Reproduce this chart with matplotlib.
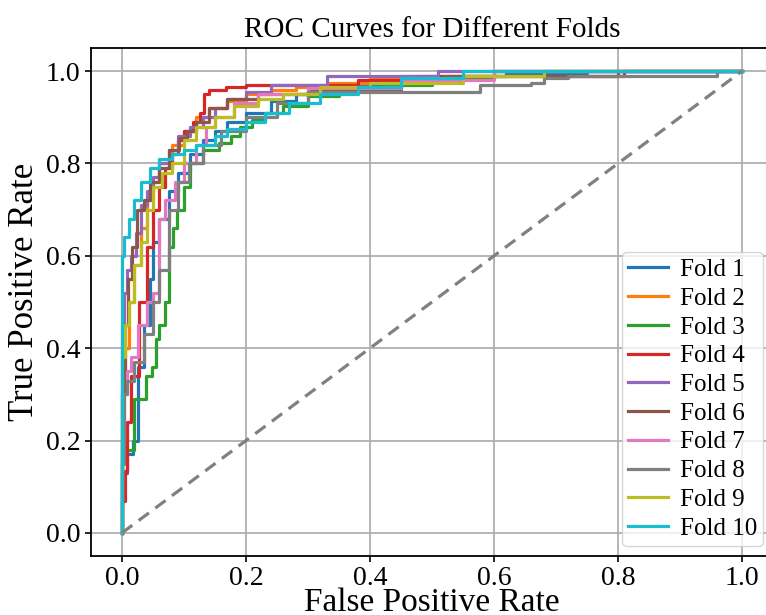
import matplotlib
matplotlib.use("Agg")
from matplotlib import pyplot as plt

plt.rcParams['font.family'] = ['Liberation Serif', 'DejaVu Serif']

# ROC points per fold (fpr = right end of each flat run, tpr = its level)
fold1_fpr = [0, 0.008, 0.018, 0.025, 0.035, 0.045, 0.05, 0.06, 0.075, 0.09, 0.11, 0.13, 0.15, 0.17, 0.2, 0.24, 0.28, 0.33, 0.38, 0.45, 0.55, 0.62, 0.75, 1.0]
fold1_tpr = [0, 0.13, 0.17, 0.2, 0.36, 0.45, 0.55, 0.63, 0.68, 0.74, 0.78, 0.82, 0.85, 0.87, 0.89, 0.91, 0.935, 0.95, 0.96, 0.97, 0.98, 0.99, 0.995, 1.0]

fold2_fpr = [0, 0.005, 0.012, 0.02, 0.03, 0.04, 0.05, 0.06, 0.08, 0.1, 0.12, 0.14, 0.17, 0.2, 0.24, 0.28, 0.33, 0.4, 0.48, 0.6, 1.0]
fold2_tpr = [0, 0.3, 0.4, 0.5, 0.58, 0.66, 0.72, 0.76, 0.8, 0.84, 0.87, 0.9, 0.92, 0.935, 0.95, 0.96, 0.965, 0.975, 0.985, 0.99, 1.0]

fold3_fpr = [0, 0.019, 0.039, 0.048, 0.055, 0.06, 0.07, 0.076, 0.083, 0.089, 0.1, 0.11, 0.13, 0.157, 0.175, 0.19, 0.21, 0.23, 0.26, 0.3, 0.35, 0.42, 0.5, 0.6, 1.0]
fold3_tpr = [0, 0.18, 0.29, 0.34, 0.36, 0.42, 0.45, 0.5, 0.62, 0.66, 0.70, 0.75, 0.80, 0.83, 0.845, 0.86, 0.878, 0.895, 0.91, 0.925, 0.945, 0.96, 0.97, 0.985, 1.0]

fold4_fpr = [0, 0.005, 0.008, 0.015, 0.027, 0.04, 0.05, 0.06, 0.07, 0.08, 0.09, 0.1, 0.115, 0.125, 0.133, 0.14, 0.168, 0.2, 0.38, 0.45, 0.81, 1.0]
fold4_tpr = [0, 0.07, 0.135, 0.24, 0.34, 0.5, 0.62, 0.7, 0.75, 0.79, 0.82, 0.85, 0.87, 0.89, 0.91, 0.95, 0.96, 0.965, 0.97, 0.98, 0.99, 1.0]

fold5_fpr = [0, 0.003, 0.008, 0.015, 0.022, 0.03, 0.04, 0.05, 0.06, 0.075, 0.09, 0.11, 0.13, 0.15, 0.17, 0.2, 0.24, 0.33, 0.51, 1.0]
fold5_tpr = [0, 0.45, 0.52, 0.57, 0.6, 0.65, 0.71, 0.74, 0.77, 0.8, 0.83, 0.86, 0.88, 0.9, 0.92, 0.94, 0.955, 0.97, 0.99, 1.0]

fold6_fpr = [0, 0.005, 0.01, 0.016, 0.024, 0.035, 0.045, 0.06, 0.076, 0.092, 0.105, 0.12, 0.14, 0.17, 0.22, 0.3, 0.45, 0.52, 0.8, 1.0]
fold6_tpr = [0, 0.3, 0.45, 0.55, 0.62, 0.70, 0.72, 0.76, 0.79, 0.83, 0.855, 0.87, 0.89, 0.92, 0.94, 0.95, 0.96, 0.978, 0.99, 1.0]

fold7_fpr = [0, 0.004, 0.008, 0.015, 0.025, 0.04, 0.05, 0.06, 0.07, 0.085, 0.1, 0.12, 0.135, 0.15, 0.18, 0.22, 0.3, 0.45, 0.6, 1.0]
fold7_tpr = [0, 0.2, 0.3, 0.35, 0.38, 0.45, 0.5, 0.52, 0.68, 0.72, 0.76, 0.8, 0.84, 0.88, 0.9, 0.93, 0.95, 0.963, 0.98, 1.0]

fold8_fpr = [0, 0.004, 0.008, 0.02, 0.035, 0.05, 0.06, 0.076, 0.09, 0.108, 0.13, 0.16, 0.2, 0.25, 0.3, 0.577, 0.66, 0.68, 0.72, 0.96, 1.0]
fold8_tpr = [0, 0.15, 0.3, 0.33, 0.37, 0.43, 0.5, 0.57, 0.70, 0.76, 0.8, 0.84, 0.87, 0.9, 0.93, 0.955, 0.97, 0.975, 0.985, 0.99, 1.0]

fold9_fpr = [0, 0.005, 0.012, 0.02, 0.03, 0.04, 0.05, 0.065, 0.08, 0.1, 0.12, 0.15, 0.18, 0.22, 0.26, 0.32, 0.4, 0.55, 0.68, 1.0]
fold9_tpr = [0, 0.38, 0.45, 0.5, 0.58, 0.63, 0.7, 0.75, 0.78, 0.8, 0.85, 0.88, 0.9, 0.925, 0.94, 0.95, 0.965, 0.975, 0.99, 1.0]

fold10_fpr = [0, 0.003, 0.011, 0.02, 0.03, 0.045, 0.06, 0.08, 0.1, 0.12, 0.15, 0.17, 0.2, 0.23, 0.27, 0.32, 0.38, 0.45, 0.55, 1.0]
fold10_tpr = [0, 0.6, 0.64, 0.68, 0.72, 0.76, 0.79, 0.81, 0.82, 0.83, 0.84, 0.86, 0.875, 0.89, 0.91, 0.93, 0.95, 0.965, 0.985, 1.0]

folds = [(fold1_fpr, fold1_tpr), (fold2_fpr, fold2_tpr), (fold3_fpr, fold3_tpr),
         (fold4_fpr, fold4_tpr), (fold5_fpr, fold5_tpr), (fold6_fpr, fold6_tpr),
         (fold7_fpr, fold7_tpr), (fold8_fpr, fold8_tpr), (fold9_fpr, fold9_tpr),
         (fold10_fpr, fold10_tpr)]
labels = ['Fold %d' % (i + 1) for i in range(len(folds))]
ticks = [0.0, 0.2, 0.4, 0.6, 0.8, 1.0]

fig = plt.figure(figsize=(7.66, 6.15), dpi=100)
# axes run slightly past the right edge, as in the cropped original
ax = fig.add_axes([91/766, 59/615, 682/766, 508/615])

for (fpr, tpr), lab in zip(folds, labels):
    ax.plot(fpr, tpr, drawstyle='steps-pre', lw=2.3, label=lab)

ax.plot([0, 1], [0, 1], '--', color='gray', lw=2.3, dashes=(4, 2.5))

ax.set_xlim(-0.05, 1.05)
ax.set_ylim(-0.05, 1.05)
ax.set_xticks(ticks)
ax.set_yticks(ticks)
ax.tick_params(labelsize=20, width=1.2, length=4)
for s in ax.spines.values():
    s.set_linewidth(1.3)
ax.grid(True, color='#b0b0b0', lw=1.3)

ax.set_title('ROC Curves for Different Folds', fontsize=21, pad=8)
ax.set_xlabel('False Positive Rate', fontsize=24, labelpad=-3)
ax.set_ylabel('True Positive Rate', fontsize=25)
ax.yaxis.set_label_coords(-0.074, 0.52)
ax.legend(loc='lower right', fontsize=18, labelspacing=0.25,
          handlelength=1.6, handletextpad=0.45, borderpad=0.25,
          borderaxespad=0.4)

fig.savefig('out.png', dpi=100)
